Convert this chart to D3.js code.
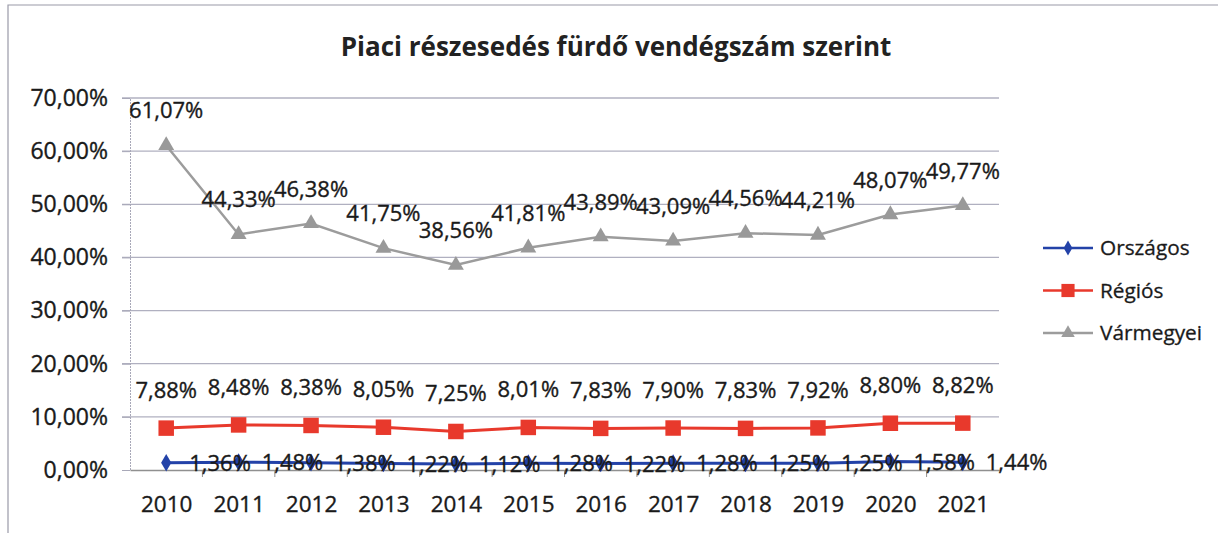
<!DOCTYPE html>
<html><head><meta charset="utf-8">
<script src="https://cdn.jsdelivr.net/npm/d3@7"></script>
<style>body{margin:0;background:#fff}svg{display:block}</style>
</head><body>
<svg id="chart" width="1225" height="533"></svg>
<script>
const years = ["2010","2011","2012","2013","2014","2015","2016","2017","2018","2019","2020","2021"];
const orszagos = [1.36,1.48,1.38,1.22,1.12,1.28,1.22,1.28,1.25,1.25,1.58,1.44];
const regios = [7.88,8.48,8.38,8.05,7.25,8.01,7.83,7.90,7.83,7.92,8.80,8.82];
const varmegyei = [61.07,44.33,46.38,41.75,38.56,41.81,43.89,43.09,44.56,44.21,48.07,49.77];
const yTicks = [0,10,20,30,40,50,60,70];
const seriesNames = ["Országos","Régiós","Vármegyei"];
const title = "Piaci részesedés fürdő vendégszám szerint";

const FONT = "'Open Sans', sans-serif";
const TXT = "#1a1a1a";
const svg = d3.select("#chart");
const fmt = v => v.toFixed(2).replace(".", ",") + "%";

// outer frame (top and left edges visible)
svg.append("path").attr("d","M8,545V5H1218")
  .attr("fill","none").attr("stroke","#9a9aa8").attr("stroke-width",1.2);

const x = d3.scalePoint().domain(years).range([130,999]).padding(0.5);
const y = d3.scaleLinear().domain([0,70]).range([470,98]);

// title
svg.append("text").attr("x",616).attr("y",56).attr("text-anchor","middle")
  .attr("font-family",FONT).attr("font-weight","bold").attr("font-size",26)
  .attr("fill","#222").text(title);

// gridlines
svg.append("g").selectAll("line").data(yTicks.filter(d=>d>0)).join("line")
  .attr("x1",122).attr("x2",999).attr("y1",d=>y(d)).attr("y2",d=>y(d))
  .attr("stroke","#b0b0c0").attr("stroke-width",1.3);

// y axis
const yAxis = d3.axisLeft(y).tickValues(yTicks).tickSize(8).tickPadding(14)
  .tickFormat(d => d.toFixed(2).replace(".", ",") + "%");
const gy = svg.append("g").attr("transform","translate(130,0)").call(yAxis);
gy.select(".domain").attr("stroke","#a8a8b8").attr("stroke-dasharray","2,1");
gy.selectAll(".tick line").attr("stroke","#a8a8b8");
gy.selectAll("text").attr("font-family",FONT).attr("font-size",23).attr("fill",TXT)
  .attr("stroke",TXT).attr("stroke-width",0.35);

// x axis
const xb = d3.scaleBand().domain(years).range([130,999]);
const xAxis = d3.axisBottom(x).tickSize(0).tickPadding(26);
const gx = svg.append("g").attr("transform","translate(0,470)").call(xAxis);
gx.select(".domain").attr("stroke","#909090").attr("stroke-width",1.3);
gx.selectAll("text").attr("font-family",FONT).attr("font-size",22.5).attr("fill",TXT)
  .attr("stroke",TXT).attr("stroke-width",0.35);
svg.append("g").selectAll("line").data(years.slice(1)).join("line")
  .attr("x1",d=>xb(d)).attr("x2",d=>xb(d)).attr("y1",470).attr("y2",477)
  .attr("stroke","#909090");

const line = d3.line().x((d,i)=>x(years[i])).y(d=>y(d));

function markerPath(type){
  if(type==="diamond") return d3.symbol().type(d3.symbolDiamond).size(90)();
  if(type==="square") return d3.symbol().type(d3.symbolSquare).size(240)();
  return d3.symbol().type(d3.symbolTriangle).size(110)();
}

const series = [
  {name:seriesNames[2], data:varmegyei, color:"#9c9c9c", w:2.5, m:"triangle", mcolor:"#999"},
  {name:seriesNames[1], data:regios, color:"#e8392c", w:3, m:"square", mcolor:"#e8392c"},
  {name:seriesNames[0], data:orszagos, color:"#2342a8", w:3, m:"diamond", mcolor:"#2342a8"}
];

series.forEach(s=>{
  svg.append("path").datum(s.data).attr("d",line).attr("fill","none")
    .attr("stroke",s.color).attr("stroke-width",s.w);
  svg.append("g").selectAll("path").data(s.data).join("path")
    .attr("d",markerPath(s.m))
    .attr("transform",(d,i)=>`translate(${x(years[i])},${y(d)})`)
    .attr("fill",s.mcolor);
});

// data labels
const lbl = (data, fn) => svg.append("g").selectAll("text").data(data).join("text")
  .attr("font-family",FONT).attr("font-size",22).attr("fill",TXT)
  .attr("stroke",TXT).attr("stroke-width",0.35).text(d=>fmt(d)).call(fn);

lbl(varmegyei, t=>t.attr("x",(d,i)=>x(years[i])).attr("y",d=>y(d)-27).attr("text-anchor","middle"));
lbl(regios, t=>t.attr("x",(d,i)=>x(years[i])).attr("y",d=>y(d)-30).attr("text-anchor","middle"));
lbl(orszagos, t=>t.attr("x",(d,i)=>x(years[i])+23).attr("y",d=>y(d)+8).attr("text-anchor","start"));

// legend
const legend = [
  {name:seriesNames[0], color:"#2342a8", m:"diamond"},
  {name:seriesNames[1], color:"#e8392c", m:"square"},
  {name:seriesNames[2], color:"#9c9c9c", m:"triangle"}
];
const lg = svg.append("g").selectAll("g").data(legend).join("g")
  .attr("transform",(d,i)=>`translate(1043,${248+i*42.5})`);
lg.append("line").attr("x1",0).attr("x2",50).attr("y1",0).attr("y2",0)
  .attr("stroke",d=>d.color).attr("stroke-width",2.5);
lg.append("path").attr("d",d=>markerPath(d.m)).attr("transform","translate(25,0) scale(0.85)")
  .attr("fill",d=>d.color);
lg.append("text").attr("x",57).attr("y",7).attr("font-family",FONT).attr("font-size",20.8)
  .attr("fill",TXT).attr("stroke",TXT).attr("stroke-width",0.3).text(d=>d.name);
</script>
</body></html>
